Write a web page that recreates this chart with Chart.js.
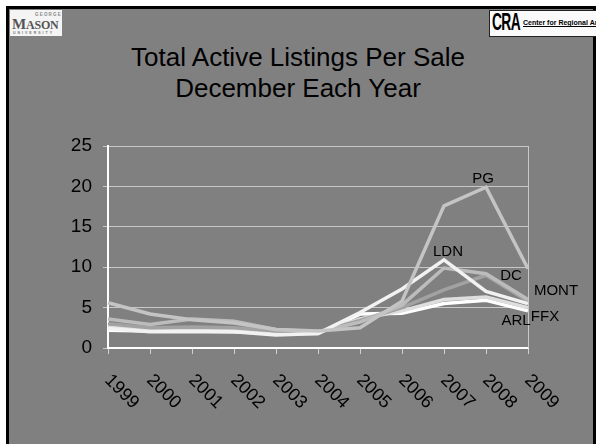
<!DOCTYPE html>
<html>
<head>
<meta charset="utf-8">
<script src="https://cdn.jsdelivr.net/npm/chart.js@4.4.1/dist/chart.umd.min.js"></script>
<style>
  html, body { margin:0; padding:0; background:#ffffff; }
  body { width:596px; height:444px; position:relative; overflow:hidden; font-family:"Liberation Sans", Arial, sans-serif; }
  #slide { position:absolute; left:6px; top:6px; width:584px; height:450px; background:#808080;
           border-left:3px solid #000; border-top:3px solid #000; border-right:3px solid #000; }
  #title { position:absolute; left:0; width:596px; top:42px; text-align:center; font-size:26px; line-height:31px; color:#000; }
  #mason { position:absolute; left:10px; top:10px; width:52px; height:26px; background:#f4f4f4; overflow:hidden; }
  #mason .g { position:absolute; left:25px; top:2px; font:bold 4.5px "Liberation Sans", Arial, sans-serif; color:#888; letter-spacing:1.2px; }
  #mason .m { position:absolute; left:2px; top:6px; font:bold 12px "Liberation Serif", "DejaVu Serif", serif; color:#555; letter-spacing:-0.2px; white-space:nowrap; }
  #mason .m b { font-size:15px; }
  #mason .u { position:absolute; left:3px; top:21px; font:bold 3.5px "Liberation Sans", Arial, sans-serif; color:#777; letter-spacing:2px; white-space:nowrap; }
  #cra { position:absolute; left:489px; top:10px; width:106px; height:25px; background:#fafafa; border:1px solid #222; overflow:hidden; }
  #cra .c { position:absolute; left:2px; top:-2px; font:bold 23px "Liberation Sans", Arial, sans-serif; color:#000; transform:scaleX(0.6); transform-origin:left top; letter-spacing:-1px; }
  #cra .t { position:absolute; left:33px; top:8px; font:bold 7px "Liberation Sans Narrow", "Liberation Sans", Arial, sans-serif; color:#000; white-space:nowrap; text-decoration:underline; }
  #chart { position:absolute; left:0; top:0; }
</style>
</head>
<body>
<div id="slide"></div>
<div id="mason"><span class="g">GEORGE</span><span class="m"><b>M</b>ASON</span><span class="u">UNIVERSITY</span></div>
<div id="cra"><span class="c">CRA</span><span class="t">Center for Regional Analysis</span></div>
<div id="title">Total Active Listings Per Sale<br>December Each Year</div>
<canvas id="chart" width="596" height="444"></canvas>
<script>
const years = ['1999','2000','2001','2002','2003','2004','2005','2006','2007','2008','2009'];
const yTicks = [0, 5, 10, 15, 20, 25];
const PG   = [5.6, 4.2, 3.5, 3.1, 2.3, 2.1, 2.5, 5.8, 17.6, 19.9, 9.8];
const LDN  = [2.4, 2.0, 2.0, 2.0, 1.6, 1.8, 4.4, 7.3, 10.9, 7.0, 5.5];
const DC   = [3.6, 2.9, 3.6, 3.3, 2.3, 2.0, 3.2, 5.3, 9.9, 9.2, 6.0];
const MONT = [3.0, 2.5, 2.6, 2.5, 2.1, 2.0, 3.4, 5.0, 7.2, 9.0, 5.8];
const FFX  = [2.6, 2.3, 2.3, 2.2, 1.9, 1.9, 3.6, 4.6, 6.0, 6.3, 5.0];
const ARL  = [2.2, 2.1, 2.1, 2.0, 1.8, 1.8, 4.2, 4.3, 5.5, 5.9, 4.6];
const seriesNames = ['PG', 'LDN', 'DC', 'MONT', 'FFX', 'ARL'];
const seriesValues = [PG, LDN, DC, MONT, FFX, ARL];
const seriesColors = ['#c4c4c4', '#f2f2f2', '#bcbcbc', '#a2a2a2', '#dedede', '#ffffff'];

const FONT = '"Liberation Sans", Arial, sans-serif';

// label placement: series index, anchor point index, pixel offset of label center
const seriesLabels = [
  { s: 0, i: 9,  dx: -3, dy: -8 },
  { s: 1, i: 8,  dx: 4,  dy: -8 },
  { s: 2, i: 9,  dx: 25, dy: 2 },
  { s: 3, i: 10, dx: 28, dy: -10 },
  { s: 5, i: 10, dx: -12, dy: 10 },
  { s: 4, i: 10, dx: 17, dy: 9 }
];

const extras = {
  id: 'extras',
  afterDraw(chart) {
    const ctx = chart.ctx;
    const xs = chart.scales.x, ys = chart.scales.y;
    const area = chart.chartArea;
    ctx.save();
    ctx.strokeStyle = '#c8c8c8';
    ctx.lineWidth = 1;
    ctx.beginPath();
    ctx.moveTo(Math.round(area.right) + 0.5, area.top);
    ctx.lineTo(Math.round(area.right) + 0.5, area.bottom);
    ctx.stroke();
    ctx.fillStyle = '#000';
    ctx.font = '18px ' + FONT;
    ctx.textAlign = 'left';
    ctx.textBaseline = 'alphabetic';
    years.forEach((lab, i) => {
      const x = xs.getPixelForTick(i) - 4;
      const y = area.bottom + 33;
      ctx.save();
      ctx.translate(x, y);
      ctx.rotate(Math.PI / 4);
      ctx.fillText(lab, 0, 0);
      ctx.restore();
    });
    ctx.font = '15px ' + FONT;
    ctx.textAlign = 'center';
    ctx.textBaseline = 'middle';
    seriesLabels.forEach(l => {
      const px = xs.getPixelForValue(l.i);
      const py = ys.getPixelForValue(seriesValues[l.s][l.i]);
      ctx.fillText(seriesNames[l.s], px + l.dx, py + l.dy);
    });
    ctx.restore();
  }
};

new Chart(document.getElementById('chart'), {
  type: 'line',
  data: {
    labels: years,
    datasets: seriesNames.map((n, k) => ({
      label: n,
      data: seriesValues[k],
      borderColor: seriesColors[k],
      backgroundColor: seriesColors[k],
      borderWidth: 3.5,
      pointRadius: 0,
      tension: 0,
      fill: false
    }))
  },
  options: {
    responsive: false,
    animation: false,
    layout: { padding: { left: 0, top: 146, right: 68, bottom: 0 } },
    plugins: { legend: { display: false }, tooltip: { enabled: false }, title: { display: false } },
    scales: {
      x: {
        offset: false,
        grid: { display: true, drawOnChartArea: false, drawTicks: true, tickLength: 6, color: '#d0d0d0', lineWidth: 1 },
        border: { display: true, color: '#ffffff', width: 2 },
        ticks: { display: false },
        afterFit(scale) { scale.height = 96; }
      },
      y: {
        min: 0, max: 25,
        afterBuildTicks(scale) { scale.ticks = yTicks.map(v => ({ value: v })); },
        grid: { color: '#c8c8c8', lineWidth: 1, drawTicks: true, tickLength: 5, tickColor: '#c8c8c8' },
        border: { display: true, color: '#ffffff', width: 2 },
        ticks: { color: '#000', font: { family: FONT, size: 19 }, padding: 11 },
        afterFit(scale) { scale.width = 108; }
      }
    }
  },
  plugins: [extras]
});
</script>
</body>
</html>
